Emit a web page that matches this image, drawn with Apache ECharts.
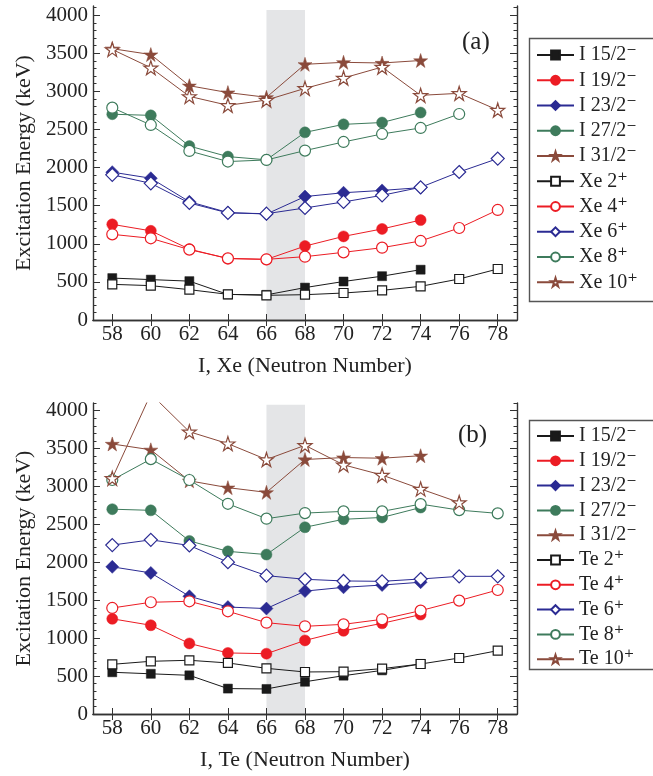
<!DOCTYPE html>
<html>
<head>
<meta charset="utf-8">
<script src="https://cdn.jsdelivr.net/npm/echarts@6/dist/echarts.min.js"></script>
<style>
  html, body { margin: 0; padding: 0; background: #fff; }
  #chart { width: 653px; height: 776px; }
</style>
</head>
<body>
<div id="chart"></div>
<script>
// Neutron numbers on the x axis
const neutronN = [58, 60, 62, 64, 66, 68, 70, 72, 74, 76, 78];
const neutronTicks = [58, 60, 62, 64, 66, 68, 70, 72, 74, 76, 78];
const energyTicks = [0, 500, 1000, 1500, 2000, 2500, 3000, 3500, 4000];
const minorEnergyTicks = [];
for (let e = 0; e <= 4100; e += 100) minorEnergyTicks.push(e);
const bandRange = [66, 68];

// Odd-A iodine negative-parity band (keV), N = 58..74
const i15 = [550, 530, 510, 335, 330, 425, 505, 575, 660];
const i19 = [1255, 1170, 930, 805, 795, 970, 1097, 1195, 1311];
const i23 = [1940, 1860, 1552, 1410, 1390, 1620, 1670, 1700, 1737];
const i27 = [2700, 2685, 2282, 2144, 2102, 2462, 2567, 2591, 2722];
const i31 = [3560, 3483, 3074, 2984, 2922, 3355, 3381, 3372, 3405];

// Even-even xenon ground-state band (keV)
const xe2 = [468, 451, 398, 337, 324, 332, 354, 389, 442, 538, 669];
const xe4 = [1124, 1072, 923, 809, 796, 831, 888, 949, 1037, 1207, 1444];
const xe6 = [1905, 1793, 1535, 1405, 1395, 1470, 1549, 1636, 1741, 1942, 2118];
const xe8 = [2786, 2559, 2218, 2079, 2100, 2223, 2336, 2441, 2520, 2703];
const xe10 = [3550, 3310, 2934, 2817, 2886, 3039, 3175, 3319, 2948, 2974, 2755];

// Even-even tellurium ground-state band (keV)
const te2 = [655, 695, 708, 673, 602, 554, 558, 598, 659, 738, 835];
const te4 = [1398, 1473, 1486, 1354, 1204, 1156, 1182, 1248, 1363, 1495, 1635];
const te6 = [2227, 2296, 2222, 2002, 1824, 1776, 1754, 1749, 1780, 1815, 1815];
const te8 = [3085, 3360, 3085, 2771, 2575, 2649, 2671, 2671, 2767, 2688, 2645];
const te10 = [3107, 4220, 3721, 3564, 3355, 3542, 3285, 3150, 2967, 2789];

const iNames = ['I 15/2\u207B', 'I 19/2\u207B', 'I 23/2\u207B', 'I 27/2\u207B', 'I 31/2\u207B'];
const xeNames = ['Xe 2\u207A', 'Xe 4\u207A', 'Xe 6\u207A', 'Xe 8\u207A', 'Xe 10\u207A'];
const teNames = ['Te 2\u207A', 'Te 4\u207A', 'Te 6\u207A', 'Te 8\u207A', 'Te 10\u207A'];

const FONT = '"Liberation Serif", "Times New Roman", "DejaVu Serif", serif';
const STAR = 'path://M50,0 L61.2,34.5 L97.6,34.5 L68.2,55.9 L79.4,90.5 L50,69.1 L20.6,90.5 L31.8,55.9 L2.4,34.5 L38.8,34.5 Z';

// colour, symbol and size for each spin step (shared by filled and open markers)
const looks = [
  { color: '#1a1a1a', symbol: 'rect', size: 9 },
  { color: '#ec1c24', symbol: 'circle', size: 11 },
  { color: '#2b2b93', symbol: 'diamond', size: 13 },
  { color: '#3e7b5c', symbol: 'circle', size: 11 },
  { color: '#8a4a3b', symbol: STAR, size: 14 }
];

function pairs(vals) {
  return vals.map((v, i) => [neutronN[i], v]);
}

function lineSeries(name, vals, k, filled, g) {
  const lk = looks[k];
  return {
    name: name,
    type: 'line',
    xAxisIndex: g * 2,
    yAxisIndex: g * 4,
    data: pairs(vals),
    symbol: lk.symbol,
    symbolSize: lk.size,
    z: 3,
    clip: true,
    lineStyle: { color: lk.color, width: 1 },
    itemStyle: filled
      ? { color: lk.color, borderColor: lk.color, borderWidth: 0.5 }
      : { color: '#ffffff', borderColor: lk.color, borderWidth: 1.2 },
    emphasis: { disabled: true },
    animation: false
  };
}

function bandSeries(g, top) {
  return {
    name: 'band' + g,
    type: 'line',
    xAxisIndex: g * 2,
    yAxisIndex: g * 4,
    data: [],
    z: 1,
    silent: true,
    markArea: {
      silent: true,
      itemStyle: { color: '#e4e5e7' },
      data: [[{ xAxis: bandRange[0], yAxis: 0 }, { xAxis: bandRange[1], yAxis: top }]]
    }
  };
}

const axisLine = { show: true, lineStyle: { color: '#333', width: 1.4 } };

function xAxes(g, title) {
  return [
    {
      gridIndex: g, type: 'value', position: 'bottom', min: 57, max: 79, interval: 1,
      axisLine: axisLine,
      axisTick: { show: true, inside: true, length: 6, customValues: neutronTicks, lineStyle: { color: '#333' } },
      axisLabel: { customValues: neutronTicks, margin: 4, fontFamily: FONT, fontSize: 21, color: '#222' },
      splitLine: { show: false },
      name: title, nameLocation: 'middle', nameGap: 35,
      nameTextStyle: { fontFamily: FONT, fontSize: 22, color: '#222' },
      z: 5
    },
    {
      gridIndex: g, type: 'value', position: 'top', min: 57, max: 79, interval: 1,
      axisLine: axisLine,
      axisTick: { show: true, inside: true, length: 6, customValues: neutronTicks, lineStyle: { color: '#333' } },
      axisLabel: { show: false },
      splitLine: { show: false },
      z: 5
    }
  ];
}

function yAxes(g, top) {
  const base = { gridIndex: g, type: 'value', min: 0, max: top, interval: 500, splitLine: { show: false }, z: 5 };
  return [
    Object.assign({}, base, {
      position: 'left',
      axisLine: axisLine,
      axisTick: { show: true, inside: true, length: 7, customValues: energyTicks, lineStyle: { color: '#333' } },
      axisLabel: {
        customValues: energyTicks, margin: 5, fontFamily: FONT, fontSize: 21, color: '#222',
        formatter: function (v) { return String(v); }
      },
      name: 'Excitation Energy (keV)', nameLocation: 'middle', nameGap: 58,
      nameTextStyle: { fontFamily: FONT, fontSize: 22, color: '#222' }
    }),
    Object.assign({}, base, {
      position: 'left',
      axisLine: { show: false },
      axisTick: { show: true, inside: true, length: 3.5, customValues: minorEnergyTicks, lineStyle: { color: '#333' } },
      axisLabel: { show: false }
    }),
    Object.assign({}, base, {
      position: 'right',
      axisLine: axisLine,
      axisTick: { show: true, inside: true, length: 7, customValues: energyTicks, lineStyle: { color: '#333' } },
      axisLabel: { show: false }
    }),
    Object.assign({}, base, {
      position: 'right',
      axisLine: { show: false },
      axisTick: { show: true, inside: true, length: 3.5, customValues: minorEnergyTicks, lineStyle: { color: '#333' } },
      axisLabel: { show: false }
    })
  ];
}

function legendFor(names, top, gap) {
  return {
    orient: 'vertical',
    left: 536,
    top: top,
    padding: 0,
    itemWidth: 37,
    itemHeight: 11,
    itemGap: gap,
    selectedMode: false,
    data: names,
    textStyle: { fontFamily: FONT, fontSize: 20, color: '#222', lineHeight: 20 }
  };
}

const TOP_MAX = 4120;
const BOT_MAX = 4100;

const series = [bandSeries(0, 4068), bandSeries(1, 4078)];
iNames.forEach((n, k) => series.push(lineSeries(n, [i15, i19, i23, i27, i31][k], k, true, 0)));
xeNames.forEach((n, k) => series.push(lineSeries(n, [xe2, xe4, xe6, xe8, xe10][k], k, false, 0)));
iNames.forEach((n, k) => series.push(lineSeries(n, [i15, i19, i23, i27, i31][k], k, true, 1)));
teNames.forEach((n, k) => series.push(lineSeries(n, [te2, te4, te6, te8, te10][k], k, false, 1)));

const option = {
  animation: false,
  backgroundColor: '#ffffff',
  grid: [
    { left: 93, top: 6, width: 424, height: 314 },
    { left: 93, top: 403, width: 424, height: 311 }
  ],
  xAxis: xAxes(0, 'I, Xe (Neutron Number)').concat(xAxes(1, 'I, Te (Neutron Number)')),
  yAxis: yAxes(0, TOP_MAX).concat(yAxes(1, BOT_MAX)),
  legend: [
    legendFor(iNames.concat(xeNames), 45, 5.25),
    legendFor(iNames.concat(teNames), 426, 4.8)
  ],
  graphic: [
    { type: 'rect', left: 527, top: 36, shape: { width: 125, height: 263 }, style: { fill: 'none', stroke: '#555', lineWidth: 1.4 }, z: 0 },
    { type: 'rect', left: 527, top: 418, shape: { width: 125, height: 249 }, style: { fill: 'none', stroke: '#555', lineWidth: 1.4 }, z: 0 },
    { type: 'text', left: 462, top: 30, style: { text: '(a)', font: '25px ' + FONT, fill: '#222' }, z: 10 },
    { type: 'text', left: 458, top: 423, style: { text: '(b)', font: '25px ' + FONT, fill: '#222' }, z: 10 }
  ],
  series: series
};

const chart = echarts.init(document.getElementById('chart'), null, { renderer: 'canvas' });
chart.setOption(option);
</script>
</body>
</html>
